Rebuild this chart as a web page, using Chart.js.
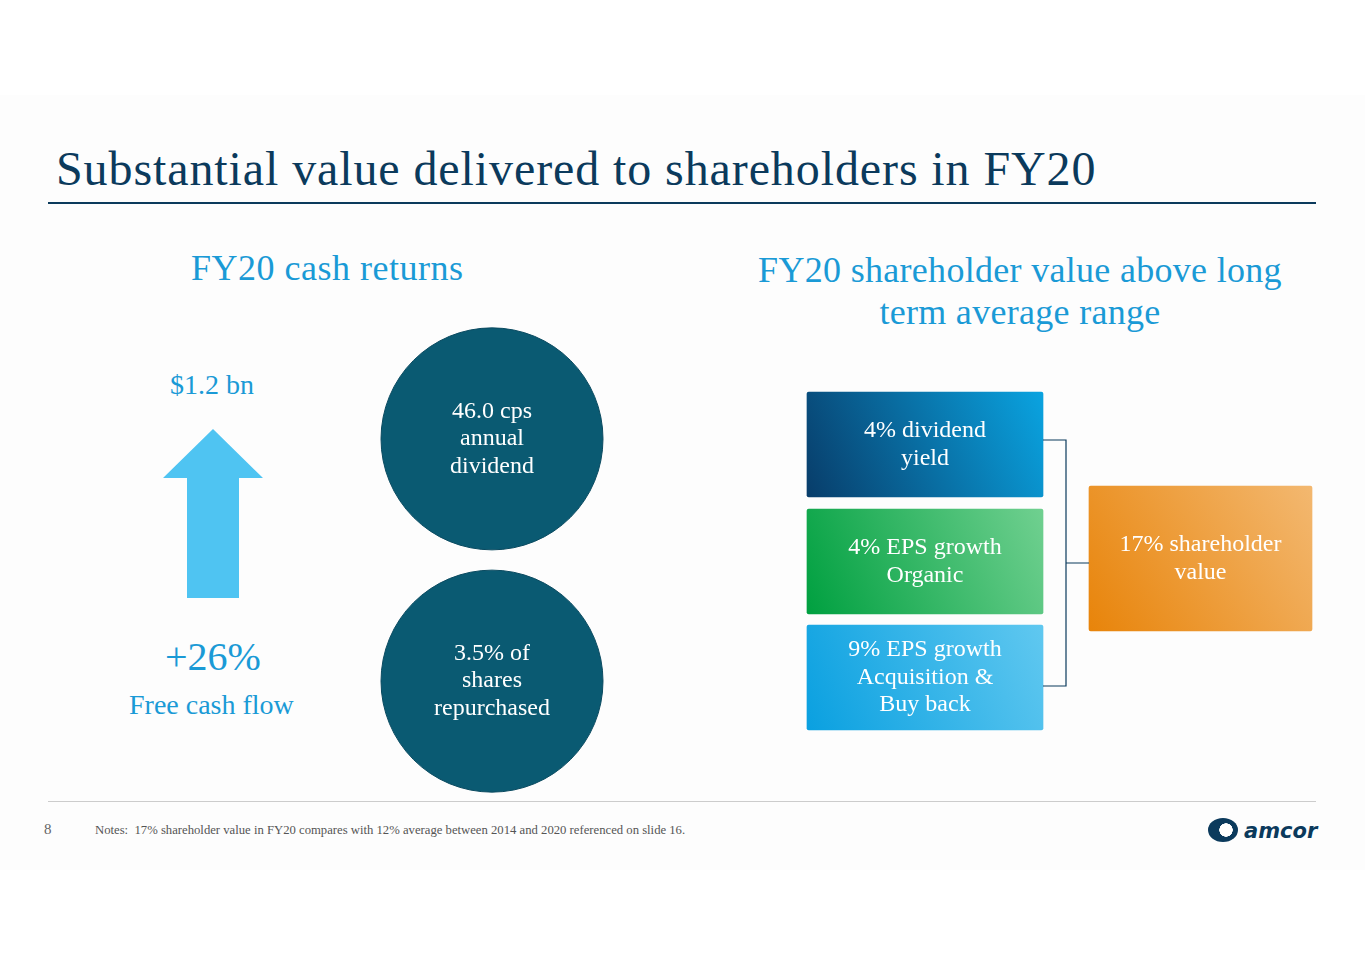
<!DOCTYPE html>
<html><head><meta charset="utf-8">
<script src="https://cdn.jsdelivr.net/npm/chart.js@4/dist/chart.umd.min.js"></script>
<style>
body{margin:0;width:1365px;height:965px;background:#fff;position:relative;overflow:hidden;font-family:"Liberation Serif",serif}
.slide{position:absolute;left:0;top:95px;width:1365px;height:775px;background:#fdfdfd}
.t{position:absolute;white-space:nowrap}
.arrow{position:absolute;left:163px;top:429px;width:100px;height:169px;background:#4fc4f2;clip-path:polygon(50% 0,100% 29%,76% 29%,76% 100%,24% 100%,24% 29%,0 29%)}
canvas{position:absolute}
</style></head><body>
<div class="slide"></div>
<div class="t" style="left:56px;top:141px;font-size:48px;color:#0b3a5c;letter-spacing:0.9px">Substantial value delivered to shareholders in FY20</div>
<div style="position:absolute;left:48px;top:202px;width:1268px;height:2px;background:#0b3a5c"></div>
<div class="t" style="left:191px;top:247px;font-size:36px;color:#1a9ad6;letter-spacing:0.5px">FY20 cash returns</div>
<div class="t" style="left:740px;top:249px;width:560px;text-align:center;font-size:36px;line-height:42px;color:#1a9ad6;letter-spacing:0.3px;white-space:normal">FY20 shareholder value above long<br>term average range</div>
<div class="t" style="left:170px;top:369px;font-size:28px;color:#1a9ad6">$1.2 bn</div>
<div class="arrow"></div>
<div class="t" style="left:165px;top:633px;font-size:40px;color:#1a9ad6;letter-spacing:0px">+26%</div>
<div class="t" style="left:129px;top:689px;font-size:28px;color:#1a9ad6">Free cash flow</div>
<canvas id="circ" style="left:378px;top:325px" width="228" height="470"></canvas>
<canvas id="box" style="left:800px;top:380px" width="520" height="360"></canvas>
<div style="position:absolute;left:48px;top:801px;width:1268px;height:1px;background:#ccc"></div>
<div class="t" style="left:44px;top:821px;font-size:15px;color:#666">8</div>
<div class="t" style="left:95px;top:823px;font-size:12.7px;color:#555">Notes:&nbsp; 17% shareholder value in FY20 compares with 12% average between 2014 and 2020 referenced on slide 16.</div>
<div class="t" style="left:1208px;top:818px;font-family:'DejaVu Sans';font-size:21px;font-style:italic;font-weight:bold;color:#0b3a5c"><span style="display:inline-block;width:30px;height:24px;border-radius:50%;background:radial-gradient(circle at 60% 50%,#fff 30%,#0b3a5c 32%);vertical-align:-4px;margin-right:6px"></span>amcor</div>
<script>
// circles
const circleLabels = [["46.0 cps","annual","dividend"],["3.5% of","shares","repurchased"]];
const circleY = [1, 0];
// boxes
const boxLabels = [["4% dividend","yield"],["4% EPS growth","Organic"],["9% EPS growth","Acquisition &","Buy back"],["17% shareholder","value"]];
const boxX = [[7,243],[7,243],[7,243],[289,512]];
const boxY = [64.5,181.5,297.5,178.5];
const boxH = [105,105,105,145];
const boxColors = [["#083d6a","#0aa3e0"],["#00a040","#70d090"],["#0aa0e0","#60c8f0"],["#e8840a","#f3b870"]];

const textPlugin = {
  id:'txt',
  afterDatasetsDraw(chart){
    const ctx = chart.ctx, labels = chart.config.options.plugins.txt.labels;
    chart.data.datasets.forEach((ds,di)=>{
      chart.getDatasetMeta(di).data.forEach((el,i)=>{
        const lines = labels[di][i]; if(!lines) return;
        const p = el.getCenterPoint ? el.getCenterPoint() : el;
        ctx.save();ctx.fillStyle='#fff';ctx.font='24px "Liberation Serif"';ctx.textAlign='center';ctx.textBaseline='middle';
        lines.forEach((l,k)=>ctx.fillText(l,p.x,p.y+(k-(lines.length-1)/2)*27.5));
        ctx.restore();
      });
    });
  }
};

new Chart(document.getElementById('circ'),{
  type:'scatter',
  data:{datasets:[{data:circleY.map(y=>({x:0,y:y})),pointRadius:111,pointHoverRadius:111,
    backgroundColor:'#0a5a72',borderColor:'#0a4a60',borderWidth:1,clip:false}]},
  options:{responsive:false,animation:false,events:[],layout:{padding:0,autoPadding:false},
    scales:{x:{display:false,min:-1,max:1},y:{display:false,min:-0.47,max:1.47}},
    plugins:{legend:{display:false},tooltip:{enabled:false},txt:{labels:[circleLabels]}}},
  plugins:[textPlugin]
});

const bracket = {
  id:'br',
  afterDatasetsDraw(chart){
    const x=chart.scales.x,y=chart.scales.y,c=chart.ctx;
    c.save();c.strokeStyle='#0b3a5c';c.lineWidth=1.2;c.beginPath();
    const x0=x.getPixelForValue(243),x1=x.getPixelForValue(266),x2=x.getPixelForValue(289);
    c.moveTo(x0,y.getPixelForValue(60));c.lineTo(x1,y.getPixelForValue(60));
    c.lineTo(x1,y.getPixelForValue(306));c.lineTo(x0,y.getPixelForValue(306));
    c.moveTo(x1,y.getPixelForValue(183));c.lineTo(x2,y.getPixelForValue(183));
    c.stroke();c.restore();
  }
};

function grad(i){
  return ctx=>{
    const ca=ctx.chart.chartArea; if(!ca) return boxColors[i][0];
    const sx=ctx.chart.scales.x, sy=ctx.chart.scales.y;
    const g=ctx.chart.ctx.createLinearGradient(sx.getPixelForValue(boxX[i][0]),sy.getPixelForValue(boxY[i]+boxH[i]/2),
      sx.getPixelForValue(boxX[i][1]),sy.getPixelForValue(boxY[i]-boxH[i]/2));
    g.addColorStop(0,boxColors[i][0]);g.addColorStop(1,boxColors[i][1]);return g;
  };
}

new Chart(document.getElementById('box'),{
  type:'bar',
  data:{datasets:boxX.map((v,i)=>({
    data:[{x:v,y:boxY[i]}],
    barThickness:boxH[i],
    backgroundColor:grad(i),
    borderSkipped:false,borderRadius:2}))},
  options:{indexAxis:'y',responsive:false,animation:false,events:[],layout:{padding:0,autoPadding:false},
    datasets:{bar:{grouped:false}},
    scales:{x:{type:'linear',display:false,min:0,max:520,offset:false},y:{type:'linear',display:false,min:0,max:360,reverse:true,offset:false}},
    plugins:{legend:{display:false},tooltip:{enabled:false},txt:{labels:boxLabels.map(l=>[l])}}},
  plugins:[bracket,textPlugin]
});
</script>
</body></html>
